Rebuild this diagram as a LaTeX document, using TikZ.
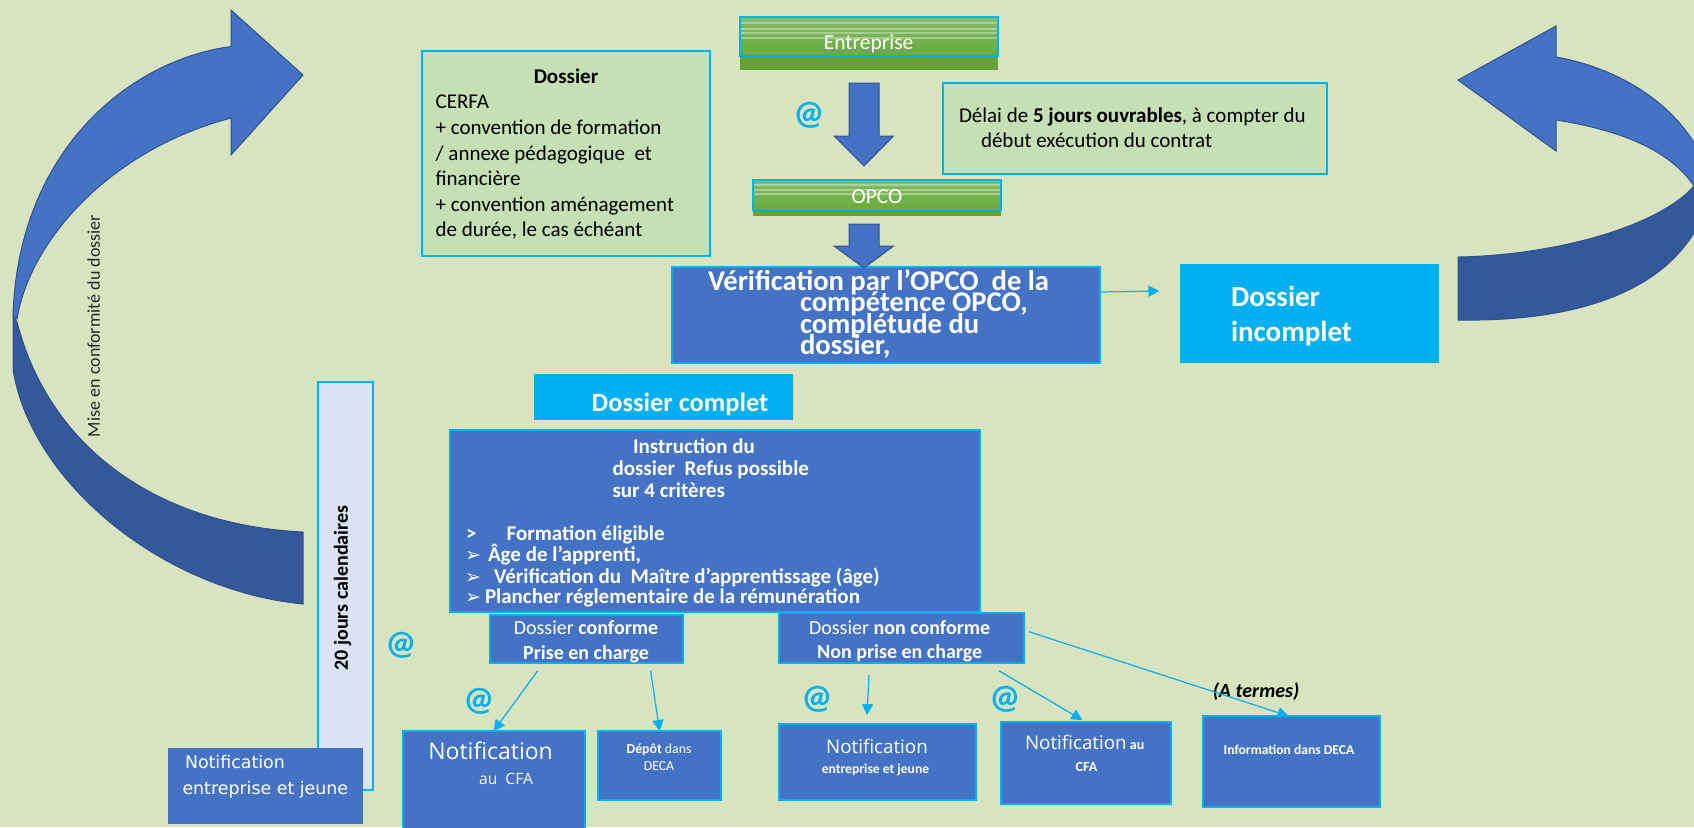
\documentclass[tikz,border=0pt]{standalone}
\usepackage{fontspec}
\setmainfont{Carlito}
\newfontfamily\osans{Open Sans}
\newfontfamily\dvs{DejaVu Sans}
\usetikzlibrary{arrows.meta,calc,fit}
\definecolor{bg}{HTML}{D8E4BF}
\definecolor{lgreen}{HTML}{C5E0B4}
\definecolor{mblue}{HTML}{4472C4}
\definecolor{dblue}{HTML}{34589A}
\definecolor{oblue}{HTML}{2F528F}
\definecolor{cyanb}{HTML}{00B0F0}
\definecolor{pale}{HTML}{DAE3F3}
\definecolor{gtop}{HTML}{84BC62}
\definecolor{gbot}{HTML}{6AAA3E}
\definecolor{gstrip}{HTML}{63A336}
\newcommand{\myfs}[1]{\fontsize{#1}{#1}\selectfont}
\begin{document}
\begin{tikzpicture}[x=0.5pt,y=-0.5pt,
  rbox/.style={inner sep=0pt, outer sep=0pt, line width=1pt},
  cbox/.style={rbox, draw=cyanb, fill=mblue},
  gbox/.style={rbox, draw=cyanb, fill=lgreen},
  sbox/.style={rbox, fill=cyanb},
  nbox/.style={rbox, fill=mblue},
  txt/.style={inner sep=0pt, outer sep=0pt},
  tw/.style={txt, anchor=base west},
  tc/.style={txt, anchor=base},
  wt/.style={text=white},
  conn/.style={draw=cyanb, line width=0.6pt, -{Triangle[length=5.5pt,width=5.5pt]}},
  atsign/.style={txt, text=cyanb, font=\bfseries\myfs{17}},
  blk/.style={fill=mblue, draw=oblue, line width=0.5pt},
  stripe/.style={draw=white, draw opacity=0.35, line width=0.6pt}
]
\useasboundingbox (0,0) rectangle (1694,827);
\fill[bg] (0,0) rectangle (1694,827);
\begin{scope}
\clip (0,0) rectangle (1694,827);

% ---- left curved arrow ----
\path[fill=dblue, draw=oblue, line width=0.5pt] (17,322) -- (13,316) -- (13,369)
  .. controls (30,480) and (160,590) .. (303,604) -- (303,532)
  .. controls (160,525) and (50,450) .. (17,322) -- cycle;
\path[fill=mblue, draw=oblue, line width=0.5pt] (231,46.5)
  .. controls (130,60) and (18,150) .. (13,316) -- (17,319)
  .. controls (30,240) and (110,150) .. (231,118) -- (231,155) -- (303,75) -- (231,10) -- cycle;
\node[txt, rotate=90, anchor=mid, text=black!85, font=\myfs{9}] (mise) at (95,326) {Mise en conformité du dossier};

% ---- right curved arrow ----
\path[fill=dblue, draw=oblue, line width=0.5pt] (1694,186)
  .. controls (1660,225) and (1560,255) .. (1458,257) -- (1458,320)
  .. controls (1580,322) and (1690,290) .. (1712,187) -- cycle;
\path[fill=mblue, draw=oblue, line width=0.5pt] (1556,57)
  .. controls (1620,68) and (1695,110) .. (1712,187) -- (1694,186)
  .. controls (1670,150) and (1620,130) .. (1556,120) -- (1556,151) -- (1458,80) -- (1556,26) -- cycle;

% ---- Dossier box ----
\node[gbox, fit={(421.7,51) (710.4,256)}] (dos) {};
\node[tc, font=\bfseries\myfs{10.5}] (dosT) at (566,83.5) {Dossier};
\node[tw, font=\myfs{10.5}] (dos1) at (435.6,108.5) {CERFA};
\node[tw, font=\myfs{10.5}] (dos2) at (435.6,134.5) {+ convention de formation};
\node[tw, font=\myfs{10.5}] (dos3) at (435.6,160.5) {/ annexe pédagogique~ et};
\node[tw, font=\myfs{10.5}] (dos4) at (435.6,185.5) {financière};
\node[tw, font=\myfs{10.5}] (dos5) at (435.6,211.5) {+ convention aménagement};
\node[tw, font=\myfs{10.5}] (dos6) at (435.6,236.5) {de durée, le cas échéant};

% ---- Entreprise bar ----
\fill[gstrip] (740,56) rectangle (997.7,70);
\node[rbox, draw=cyanb, top color=gtop, bottom color=gbot, fit={(740,17.3) (997.7,55.7)}] (ent) {};
\foreach \yy in {23,29,33,38}{\draw[stripe] (741,\yy) -- (997,\yy);}
\node[tc, wt, font=\myfs{10.75}] (entT) at (868.6,49.7) {Entreprise};

% ---- block arrow 1 + @ ----
\path[blk] (849,83) -- (879,83) -- (879,136) -- (893.5,136) -- (864,166) -- (834,136) -- (849,136) -- cycle;
\node[atsign] (at1) at (809,115) {@};

% ---- Délai box ----
\node[gbox, fit={(943,83) (1327,174)}] (delai) {};
\node[tw, font=\myfs{10.5}] (del1) at (959,122.5) {Délai de \textbf{5 jours ouvrables}, à compter du};
\node[tw, font=\myfs{10.5}] (del2) at (981,147.5) {début exécution du contrat};

% ---- OPCO bar ----
\fill[gstrip] (753,209) rectangle (1001,216);
\node[rbox, draw=cyanb, top color=gtop, bottom color=gbot, fit={(753,180) (1001,210)}] (opco) {};
\foreach \yy in {185,190,194}{\draw[stripe] (754,\yy) -- (1000,\yy);}
\node[tc, wt, font=\myfs{10.75}] (opcoT) at (877,203.7) {OPCO};

% ---- Vérification box ----
\node[cbox, fit={(672,267) (1100,363)}] (verif) {};
\path[blk] (849,224) -- (879,224) -- (879,246) -- (893.5,246) -- (864,268) -- (834,246) -- (849,246) -- cycle;
\node[tw, wt, font=\bfseries\myfs{14.3}] (ver1) at (708,290.7) {Vérification par l’OPCO~ de la};
\node[tw, wt, font=\bfseries\myfs{14.3}] (ver2) at (800,311) {compétence OPCO,};
\node[tw, wt, font=\bfseries\myfs{14.3}] (ver3) at (800,333) {complétude du};
\node[tw, wt, font=\bfseries\myfs{14.3}] (ver4) at (800,354) {dossier,};

% ---- Dossier incomplet ----
\node[sbox, fit={(1179.5,264) (1439,363)}] (inc) {};
\node[tw, wt, font=\bfseries\myfs{14.5}] (inc1) at (1231,306) {Dossier};
\node[tw, wt, font=\bfseries\myfs{14.5}] (inc2) at (1231,341) {incomplet};
\coordinate (vstart) at ($(verif.north east)+(0,25)$);
\coordinate (vend) at ($(inc.west)+(-20,-22.5)$);
\draw[conn] (vstart) -- (vend);

% ---- Dossier complet ----
\node[sbox, fit={(534,374) (793,420)}] (comp) {};
\node[tc, wt, font=\bfseries\myfs{13.2}] (compT) at (680,411.2) {Dossier complet};

% ---- 20 jours box ----
\node[rbox, draw=cyanb, fill=pale, fit={(318,382) (373,790)}] (vingt) {};
\node[txt, rotate=90, anchor=mid, font=\bfseries\myfs{10}] (vingtT) at (343,588) {20 jours calendaires};

% ---- Instruction box ----
\node[cbox, fit={(450,430) (980,612)}] (instr) {};
\node[tw, wt, font=\bfseries\myfs{10.5}] (ins1) at (633,453.5) {Instruction du};
\node[tw, wt, font=\bfseries\myfs{10.5}] (ins2) at (612.5,475.5) {dossier~ Refus possible};
\node[tw, wt, font=\bfseries\myfs{10.5}] (ins3) at (612.5,497.5) {sur 4 critères};
\node[tw, wt, font=\bfseries\myfs{10.5}] (insg) at (466,540.5) {>};
\node[tw, wt, font=\bfseries\myfs{10.5}] (ins4) at (506.7,540.5) {Formation éligible};
\node[tw, wt, font=\dvs\myfs{9.5}] (b1) at (465,561.5) {➢};
\node[tw, wt, font=\bfseries\myfs{10.5}] (ins5) at (488,561.5) {Âge de l’apprenti,};
\node[tw, wt, font=\dvs\myfs{9.5}] (b2) at (465,583.5) {➢};
\node[tw, wt, font=\bfseries\myfs{10.5}] (ins6) at (494,583.5) {Vérification du~ Maître d’apprentissage (âge)};
\node[tw, wt, font=\dvs\myfs{9.5}] (b3) at (465,603.5) {➢};
\node[tw, wt, font=\bfseries\myfs{10.5}] (ins7) at (485,603.5) {Plancher réglementaire de la rémunération};

% ---- conforme / non conforme ----
\node[cbox, fit={(490,615) (683,663)}] (conf) {};
\node[tc, wt, font=\myfs{10}] (conf1) at (586,634.2) {Dossier \textbf{conforme}};
\node[tc, wt, font=\bfseries\myfs{10}] (conf2) at (586,659.2) {Prise en charge};
\node[cbox, fit={(779,613) (1024,663)}] (nconf) {};
\node[tc, wt, font=\myfs{10}] (nc1) at (899.6,634.2) {Dossier \textbf{non conforme}};
\node[tc, wt, font=\bfseries\myfs{10}] (nc2) at (899.6,658.2) {Non prise en charge};

% ---- @ signs ----
\node[atsign] (at2) at (401,645) {@};
\node[atsign] (at3) at (479,701) {@};
\node[atsign] (at4) at (817,699) {@};
\node[atsign] (at5) at (1005,699) {@};

% ---- bottom boxes ----
\node[nbox, fit={(168,748) (363,824)}] (notL) {};
\node[tw, wt, font=\dvs\myfs{8.7}] (notL1) at (185,768.7) {Notification};
\node[tw, wt, font=\dvs\myfs{8.7}] (notL2) at (182.5,794.7) {entreprise et jeune};

\node[cbox, fit={(402.6,731) (585,835)}] (ncfa) {};
\node[tc, wt, font=\osans\myfs{11.5}] (ncfa1) at (490.6,759) {Notification};
\node[tc, wt, font=\osans\myfs{7.8}] (ncfa2) at (506,784.5) {au~ CFA};

\node[cbox, fit={(597.8,731) (721.4,800)}] (depot) {};
\node[tc, wt, font=\myfs{6.9}] (dep1) at (659,753.3) {\textbf{Dépôt} dans};
\node[tc, wt, font=\myfs{6.9}] (dep2) at (659,770.3) {DECA};

\node[cbox, fit={(779,724) (976,800)}] (nej) {};
\node[tc, wt, font=\osans\myfs{9.4}] (nej1) at (877,753.5) {Notification};
\node[tc, wt, font=\bfseries\myfs{6.8}] (nej2) at (875.5,773.2) {entreprise et jeune};

\node[cbox, fit={(1000.8,721.7) (1171.4,804)}] (ncfa2b) {};
\node[tw, wt, font=\osans\myfs{9.4}] (nc2a) at (1025,749.5) {Notification\,{\rmfamily\bfseries\myfs{7}au}};
\node[tc, wt, font=\bfseries\myfs{7}] (nc2b) at (1086.5,771.3) {CFA};

\node[cbox, fit={(1202.9,716) (1380.4,807)}] (deca) {};
\node[tc, wt, font=\bfseries\myfs{6.8}] (decaT) at (1289,754.2) {Information dans DECA};

\node[tc, font=\bfseries\itshape\myfs{10}] (terme) at (1256,697.2) {(A termes)};

% ---- connectors ----
\coordinate (s1) at ($(conf.south)+(-48.8,7.7)$);
\coordinate (s2) at ($(conf.south)+(64.1,7.7)$);
\coordinate (s3) at ($(nconf.south)+(-32.5,12)$);
\coordinate (s4) at ($(nconf.south)+(97.3,7.7)$);
\coordinate (s5) at ($(nconf.east)+(5,-6.3)$);
\coordinate (e3) at ($(nej.north)+(-10.5,-9)$);
\draw[conn] (s1) -- (ncfa.north);
\draw[conn] (s2) -- (depot.north);
\draw[conn] (s3) -- (e3);
\draw[conn] (s4) -- ($(ncfa2b.north)+(-3.7,-1.7)$);
\draw[conn] (s5) -- ($(deca.north)+(-3,0)$);
\end{scope}
\end{tikzpicture}
\end{document}
